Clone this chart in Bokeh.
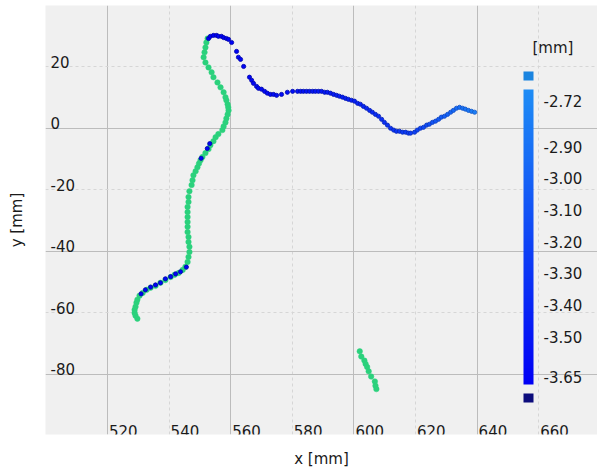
from bokeh.plotting import figure
from bokeh.models import (ColumnDataSource, LinearColorMapper, ColorBar, FixedTicker,
                          Range1d, Label, AllLabels)
from bokeh.transform import transform
from bokeh.core.properties import value
from bokeh.embed import file_html
from bokeh.resources import INLINE

# ---------------- data ----------------
green_x = [529.7, 529.1, 528.8, 528.8, 529.1, 529.4, 529.7, 530.4, 531.4, 532.7, 534.0, 535.6,
           537.2, 538.8, 540.5, 541.8, 543.1, 544.4, 545.3, 546.0, 546.3,
           546.6, 546.6, 546.3, 546.3, 546.0, 546.0, 546.0, 546.0, 546.0, 546.0, 546.3, 546.3,
           546.6, 547.3, 547.6, 547.9, 548.6, 549.2, 549.7, 550.2, 550.8, 551.8, 552.8, 553.4,
           554.4, 555.1, 556.0, 557.3,
           557.7, 558.3, 558.6, 559.0, 559.3, 559.2, 559.0, 558.6, 558.3, 557.7, 556.7, 555.7,
           554.4, 553.8, 552.8, 551.8, 551.2, 551.5, 551.8, 552.1, 552.5,
           601.9, 602.4, 603.4, 603.8, 604.3, 604.8, 605.6, 606.8, 607.0, 607.3]
green_y = [-62.0, -61.0, -60.1, -59.1, -58.1, -56.8, -55.8, -54.5, -53.6, -52.6, -51.9, -51.3,
           -50.3, -49.4, -48.4, -47.7, -47.1, -46.1, -45.1, -43.5, -41.9,
           -40.3, -38.6, -37.0, -35.4, -33.8, -32.1, -30.5, -28.9, -27.3, -25.6, -24.0, -22.4,
           -20.5, -18.5, -16.9, -15.3, -14.0, -12.7, -11.5, -10.4, -9.4, -8.1, -6.8, -5.5,
           -4.2, -2.9, -1.9, -0.6,
           0.6, 1.9, 3.2, 4.5, 5.8, 6.8, 7.8, 9.1, 10.1, 11.7, 13.3, 14.9,
           16.6, 18.2, 19.8, 21.4, 23.1, 24.7, 26.3, 27.9, 29.2,
           -72.6, -74.3, -75.6, -76.7, -77.7, -79.1, -80.8, -82.4, -83.8, -84.9]

blue_x = [552.8, 553.4, 554.4, 555.4, 556.0, 557.0, 557.7, 558.6, 559.3, 560.3, 561.9, 562.5,
          563.2, 564.2, 566.1, 566.8, 567.4, 568.4, 569.0, 570.0, 571.0, 571.9, 572.9, 573.9,
          574.9, 576.5, 578.4, 580.1, 581.7, 582.7, 583.6, 584.6, 585.6, 586.6, 587.5, 588.5,
          589.5, 590.5, 591.4, 592.4, 593.4, 594.4, 595.3, 596.3, 597.3, 598.2, 599.2, 600.2,
          601.2, 602.1, 603.1, 604.1, 605.1, 606.0, 607.0, 608.0, 609.0, 609.9, 610.9, 611.9,
          612.9, 613.8, 614.8, 615.8, 616.8, 617.7, 618.4, 619.7, 620.6, 621.6, 622.6, 623.6,
          624.5, 625.5, 626.5, 627.5, 628.4, 629.4, 630.4, 631.4, 632.3, 633.3, 634.3, 635.3,
          636.2, 637.2, 638.2, 639.2,
          545.6, 543.7, 542.1, 540.5, 538.8, 537.2, 535.6, 534.0, 532.3, 530.9,
          553.2, 552.4, 550.4]
blue_y = [29.2, 29.9, 30.2, 30.2, 29.9, 29.9, 29.5, 29.2, 28.9, 27.9, 25.0, 23.1,
          22.4, 20.1, 16.6, 15.6, 14.6, 13.6, 13.0, 12.7, 12.0, 11.4, 11.0, 11.0,
          10.7, 11.0, 11.7, 12.0, 12.0, 12.0, 12.0, 12.0, 12.0, 12.0, 12.0, 12.0,
          12.0, 11.7, 11.7, 11.4, 11.0, 10.7, 10.4, 10.1, 9.7, 9.4, 9.1, 8.8,
          8.1, 7.8, 7.1, 6.5, 5.8, 5.2, 4.5, 3.9, 2.9, 1.9, 1.0, 0.0,
          -0.6, -1.0, -1.0, -1.3, -1.3, -1.6, -1.6, -1.3, -0.6, 0.0, 0.3, 1.0,
          1.3, 1.9, 2.3, 2.9, 3.6, 3.9, 4.5, 5.2, 5.8, 6.5, 6.8, 6.5,
          6.2, 5.8, 5.5, 5.2,
          -45.2, -46.7, -47.4, -48.3, -49.0, -50.3, -51.0, -51.7, -52.6, -53.9,
          -5.0, -6.6, -9.8]
blue_z = [-3.64, -3.64, -3.64, -3.64, -3.63, -3.63, -3.63, -3.63, -3.62, -3.62, -3.62, -3.61,
          -3.61, -3.61, -3.60, -3.60, -3.60, -3.59, -3.59, -3.59, -3.58, -3.58, -3.58, -3.57,
          -3.57, -3.56, -3.55, -3.54, -3.53, -3.52, -3.52, -3.51, -3.51, -3.50, -3.50, -3.49,
          -3.49, -3.48, -3.48, -3.47, -3.47, -3.46, -3.46, -3.45, -3.45, -3.44, -3.44, -3.43,
          -3.42, -3.41, -3.40, -3.39, -3.38, -3.37, -3.36, -3.35, -3.34, -3.33, -3.32, -3.31,
          -3.30, -3.29, -3.28, -3.27, -3.26, -3.25, -3.24, -3.22, -3.20, -3.18, -3.16, -3.14,
          -3.12, -3.10, -3.08, -3.06, -3.04, -3.02, -3.00, -2.98, -2.96, -2.94, -2.92, -2.90,
          -2.88, -2.86, -2.84, -2.82,
          -3.62, -3.62, -3.62, -3.61, -3.61, -3.61, -3.62, -3.62, -3.62, -3.62,
          -3.60, -3.60, -3.60]

x_ticks = [520, 540, 560, 580, 600, 620, 640, 660]
y_ticks = [20, 0, -20, -40, -60, -80]
cbar_ticks = [-2.72, -2.90, -3.00, -3.10, -3.20, -3.30, -3.40, -3.50, -3.65]
z_low, z_high = -3.65, -2.72

# ---------------- styling ----------------
FONT = "DejaVu Sans"
TXT = "#1a1a1a"
GREEN = "#2bd17c"

def ramp(c0, c1, n):
    out = []
    for i in range(n):
        t = i / (n - 1)
        out.append("#%02x%02x%02x" % tuple(round(a + (b - a) * t) for a, b in zip(c0, c1)))
    return out

palette = ramp((0, 0, 245), (30, 140, 245), 93)
palette_dark = ramp((0, 0, 170), (20, 100, 205), 93)
mapper = LinearColorMapper(palette=palette, low=z_low, high=z_high,
                           low_color="#0c0c7c", high_color="#1a84e0")
mapper_dark = LinearColorMapper(palette=palette_dark, low=z_low, high=z_high,
                                low_color="#0c0c6c", high_color="#1670c8")

x0, x1 = 499.87, 679.09
y0, y1 = -99.67, 39.94

p = figure(width=597, height=470, x_range=Range1d(x0, x1), y_range=Range1d(y0, y1),
           output_backend="svg", toolbar_location=None,
           min_border_left=45, min_border_right=0, min_border_top=5, min_border_bottom=35)
p.background_fill_color = "#f0f0f0"
p.border_fill_color = "white"
p.outline_line_color = None

# grids: solid on every other tick, dashed in between
p.xgrid.ticker = FixedTicker(ticks=x_ticks[::2], minor_ticks=x_ticks[1::2])
p.ygrid.ticker = FixedTicker(ticks=y_ticks[1::2], minor_ticks=y_ticks[::2])
for g in (p.xgrid, p.ygrid):
    g.grid_line_color = "#bcbcbc"
    g.grid_line_width = 1
    g.minor_grid_line_color = "#d6d6d6"
    g.minor_grid_line_dash = "3 3"

# axes: only titles outside, tick labels drawn inside the frame
for ax in (p.xaxis, p.yaxis):
    ax.ticker = FixedTicker(ticks=[])
    ax.axis_line_color = None
    ax.major_tick_line_color = None
    ax.minor_tick_line_color = None
    ax.major_tick_out = 0
    ax.minor_tick_out = 0
    ax.major_label_standoff = 0
    ax.axis_label_text_font = FONT
    ax.axis_label_text_font_size = "15px"
    ax.axis_label_text_font_style = "normal"
    ax.axis_label_text_color = TXT
p.xaxis.axis_label = "x [mm]"
p.yaxis.axis_label = "y [mm]"
p.xaxis.axis_label_standoff = 15
p.yaxis.axis_label_standoff = 20

p.text(x=x_ticks, y=[y0] * len(x_ticks), text=[str(t) for t in x_ticks],
       text_font=value(FONT), text_font_size=value("15px"), text_color=TXT,
       text_align="left", text_baseline="alphabetic", x_offset=1.5, y_offset=-3.5)
p.text(x=[x0] * len(y_ticks), y=y_ticks, text=[str(t) for t in y_ticks],
       text_font=value(FONT), text_font_size=value("15px"), text_color=TXT,
       text_align="left", text_baseline="alphabetic", x_offset=5, y_offset=-5)

# data
p.scatter(green_x, green_y, size=5.5, fill_color=GREEN, line_color=GREEN, line_width=0.5)
src_b = ColumnDataSource(dict(x=blue_x, y=blue_y, z=blue_z))
p.scatter("x", "y", source=src_b, size=4.2, fill_color=transform("z", mapper),
          line_color=transform("z", mapper_dark), line_width=0.8)

# colour bar: end labels are kept inside the bar's extent, as in the original
BAR_H = 295
px_per_unit = BAR_H / (z_high - z_low)
tick_pos = list(cbar_ticks)
tick_pos[0] = round(cbar_ticks[0] - 11 / px_per_unit, 4)
tick_pos[-1] = round(cbar_ticks[-1] + 8 / px_per_unit, 4)
overrides = {pos: "%.2f" % t for pos, t in zip(tick_pos, cbar_ticks)}

cb_common = dict(padding=0, margin=0, border_line_color=None, background_fill_color=None,
                 bar_line_color=None, major_tick_line_color=None, minor_tick_line_color=None,
                 major_label_text_font=FONT, major_label_text_font_size="15px",
                 major_label_text_color=TXT)
cb = ColorBar(color_mapper=mapper, ticker=FixedTicker(ticks=tick_pos),
              major_label_overrides=overrides, width=10, height=BAR_H,
              location=(478, 50), label_standoff=10, major_label_policy=AllLabels(),
              **cb_common)
p.add_layout(cb)

over = ColorBar(color_mapper=LinearColorMapper(palette=["#1a84e0"], low=0, high=1),
                ticker=FixedTicker(ticks=[]), width=10, height=9, location=(478, 354),
                **cb_common)
under = ColorBar(color_mapper=LinearColorMapper(palette=["#0c0c7c"], low=0, high=1),
                 ticker=FixedTicker(ticks=[]), width=10, height=9, location=(478, 32),
                 **cb_common)
p.add_layout(over)
p.add_layout(under)
p.add_layout(Label(x=487, y=387, x_units="screen", y_units="screen", text="[mm]",
                   text_font=FONT, text_font_size="15px", text_color=TXT,
                   text_baseline="middle", text_align="left"))

open("out.html", "w").write(file_html(p, INLINE))
